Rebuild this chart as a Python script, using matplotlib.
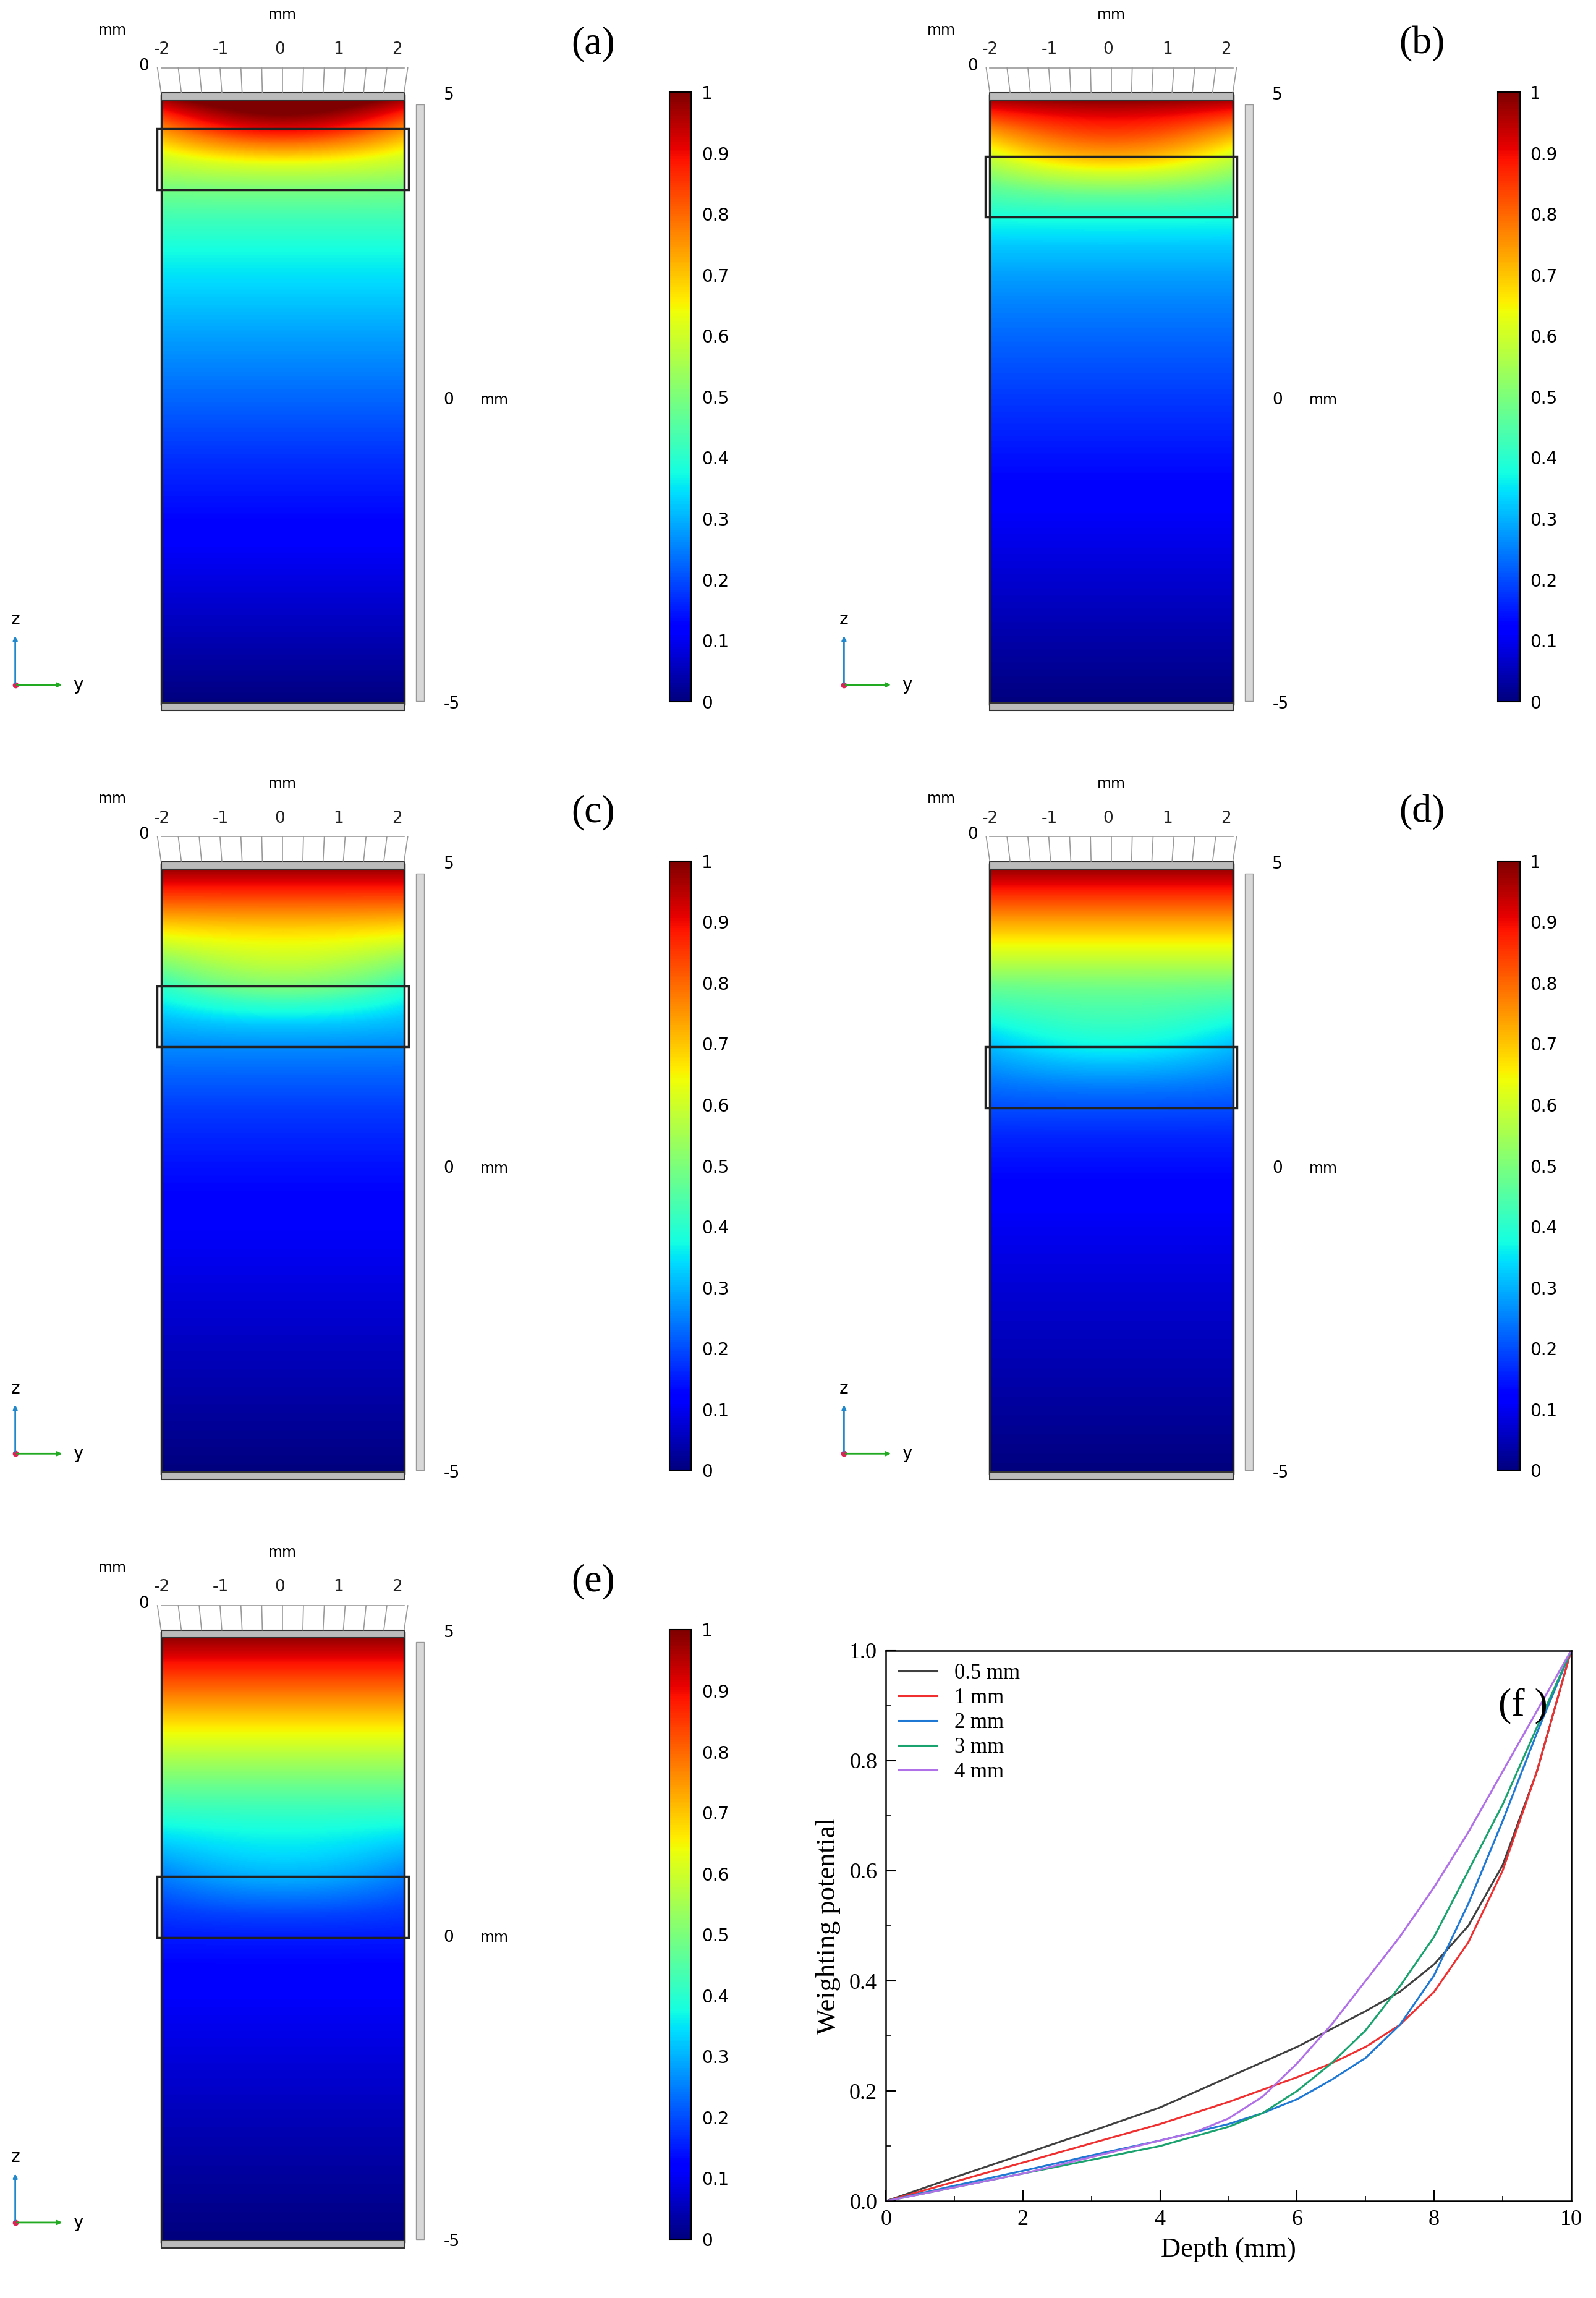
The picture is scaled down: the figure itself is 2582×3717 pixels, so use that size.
import numpy as np
import matplotlib
matplotlib.use("Agg")
import matplotlib.pyplot as plt
from matplotlib.patches import Rectangle

# ---- data ----
labels = ["0.5 mm", "1 mm", "2 mm", "3 mm", "4 mm"]
panel_tags = ["(a)", "(b)", "(c)", "(d)", "(e)"]
colors = ["#404040", "#f03030", "#1f78d4", "#1aa36f", "#b070e8"]
strip_top = [4.45, 4.0, 3.0, 2.0, 1.0]   # z of electrode strip top (mm)
depth_0p5 = [0, 1, 2, 3, 4, 5, 6, 7, 7.5, 8, 8.5, 9, 9.5, 10]
pot_0p5 = [0, 0.043, 0.085, 0.127, 0.17, 0.225, 0.28, 0.345, 0.38, 0.43, 0.5, 0.61, 0.78, 1.0]
depth_1 = [0, 1, 2, 3, 4, 5, 6, 6.5, 7, 7.5, 8, 8.5, 9, 9.5, 10]
pot_1 = [0, 0.035, 0.07, 0.105, 0.14, 0.18, 0.225, 0.25, 0.28, 0.32, 0.38, 0.47, 0.6, 0.78, 1.0]
depth_2 = [0, 1, 2, 3, 4, 5, 5.5, 6, 6.5, 7, 7.5, 8, 8.5, 9, 9.5, 10]
pot_2 = [0, 0.028, 0.055, 0.083, 0.11, 0.14, 0.16, 0.185, 0.22, 0.26, 0.32, 0.41, 0.54, 0.69, 0.85, 1.0]
depth_3 = [0, 1, 2, 3, 4, 5, 5.5, 6, 6.5, 7, 7.5, 8, 8.5, 9, 9.5, 10]
pot_3 = [0, 0.025, 0.05, 0.075, 0.1, 0.135, 0.16, 0.2, 0.25, 0.31, 0.39, 0.48, 0.6, 0.72, 0.86, 1.0]
depth_4 = [0, 1, 2, 3, 4, 4.5, 5, 5.5, 6, 6.5, 7, 7.5, 8, 8.5, 9, 9.5, 10]
pot_4 = [0, 0.025, 0.05, 0.08, 0.11, 0.125, 0.15, 0.19, 0.25, 0.32, 0.4, 0.48, 0.57, 0.67, 0.78, 0.89, 1.0]
curves = [(depth_0p5, pot_0p5), (depth_1, pot_1), (depth_2, pot_2),
          (depth_3, pot_3), (depth_4, pot_4)]
cb_ticks = [0, 0.1, 0.2, 0.3, 0.4, 0.5, 0.6, 0.7, 0.8, 0.9, 1.0]
cb_labels = ["0", "0.1", "0.2", "0.3", "0.4", "0.5", "0.6", "0.7", "0.8", "0.9", "1"]

W, H = 2582, 3717
fig = plt.figure(figsize=(W / 100, H / 100), dpi=100)

def fr(xd, yd_top, wd, hd):
    s = 2582 / 1090
    return [xd * s / W, 1 - (yd_top + hd) * s / H, wd * s / W, hd * s / H]

col_x = [110, 676]
row_y = [63, 588, 1113]
ys = np.linspace(-2, 2, 200)
zs = np.linspace(-5, 5, 600)
Y, Z = np.meshgrid(ys, zs)

for i in range(5):
    r, c = divmod(i, 2)
    ax = fig.add_axes(fr(col_x[c], row_y[r], 166, 420))
    d, p = curves[i]
    st = strip_top[i]
    bend = 0.35 * (1 - (Y / 2) ** 2) * np.exp(-((Z - st) / 0.7) ** 2)
    depth = np.clip(Z + 5 + bend, 0, 10)
    F = np.interp(depth, d, p)
    im = ax.imshow(F, extent=[-2, 2, -5, 5], origin="lower", cmap="jet",
                   vmin=0, vmax=1, aspect="auto", interpolation="bilinear")
    ax.set_xlim(-2, 2)
    ax.set_ylim(-5.05, 5.05)
    ax.axis("off")
    ax.add_patch(Rectangle((-2, -5), 4, 10, fill=False, lw=2.5, ec="#222222", clip_on=False))
    ax.add_patch(Rectangle((-2, -5.1), 4, 0.12, fc="#bbbbbb", ec="#333333", lw=1.5, clip_on=False))
    ax.add_patch(Rectangle((-2, 4.92), 4, 0.12, fc="#bbbbbb", ec="#333333", lw=1.5, clip_on=False))
    ax.add_patch(Rectangle((-2.07, st - 1), 4.14, 1, fill=False, lw=2.5, ec="#222222", clip_on=False))
    # top ruler
    for t in [-2, -1, 0, 1, 2]:
        ax.text(t * 0.97 - 0.05, 5.62, str(t), ha="center", va="bottom", fontsize=19, color="#222222", clip_on=False)
    for t in np.linspace(-2, 2, 13):
        ax.plot([t, t * 1.03], [5.05, 5.45], color="#999999", lw=1.2, clip_on=False)
    ax.plot([-2, 2], [5.45, 5.45], color="#999999", lw=1.2, clip_on=False)
    ax.text(0, 6.2, "mm", ha="center", va="bottom", fontsize=17, clip_on=False)
    ax.text(-2.8, 5.95, "mm", ha="center", va="bottom", fontsize=17, clip_on=False)
    ax.text(-2.28, 5.35, "0", ha="center", va="bottom", fontsize=19, clip_on=False)
    # right ruler
    ax.add_patch(Rectangle((2.2, -4.95), 0.13, 9.8, fc="#d8d8d8", ec="#999999", lw=1, clip_on=False))
    ax.text(2.65, 5.0, "5", ha="left", va="center", fontsize=19, clip_on=False)
    ax.text(2.65, 0.0, "0", ha="left", va="center", fontsize=19, clip_on=False)
    ax.text(3.25, 0.0, "mm", ha="left", va="center", fontsize=17, clip_on=False)
    ax.text(2.65, -5.0, "-5", ha="left", va="center", fontsize=19, clip_on=False)
    # axis triad
    ax.annotate("", xy=(-3.6, -4.68), xytext=(-4.4, -4.68),
                arrowprops=dict(arrowstyle="-|>", color="#22aa22", lw=2), annotation_clip=False)
    ax.annotate("", xy=(-4.4, -3.85), xytext=(-4.4, -4.68),
                arrowprops=dict(arrowstyle="-|>", color="#2288cc", lw=2), annotation_clip=False)
    ax.plot([-4.4], [-4.68], "o", color="#dd2255", ms=6, clip_on=False)
    ax.text(-3.45, -4.68, "y", ha="left", va="center", fontsize=20, clip_on=False)
    ax.text(-4.4, -3.75, "z", ha="center", va="bottom", fontsize=20, clip_on=False)
    # panel label
    fig.text((col_x[c] + 295) * 2582 / 1090 / W, 1 - (row_y[r] - 33) * 2582 / 1090 / H, panel_tags[i],
             fontsize=46, family="Liberation Serif", ha="center", va="center")
    # colorbar
    cax = fig.add_axes(fr(col_x[c] + 347, row_y[r], 15, 416))
    cb = fig.colorbar(im, cax=cax, ticks=cb_ticks)
    cb.ax.set_yticklabels(cb_labels)
    cb.ax.tick_params(labelsize=20, length=0, pad=12)
    cb.outline.set_linewidth(1.5)

# panel (f)
ax = fig.add_axes(fr(605, 1127, 468, 376))
for (d, p), lab, col in zip(curves, labels, colors):
    ax.plot(d, p, color=col, lw=2.2, label=lab)
ax.set_xlim(0, 10)
ax.set_ylim(0, 1.0)
ax.set_xticks([0, 2, 4, 6, 8, 10])
ax.set_yticks([0, 0.2, 0.4, 0.6, 0.8, 1.0])
ax.set_yticklabels(["0.0", "0.2", "0.4", "0.6", "0.8", "1.0"])
ax.set_xticks(np.arange(1, 10, 2), minor=True)
ax.set_yticks(np.arange(0.1, 1.0, 0.2), minor=True)
ax.tick_params(direction="in", which="major", length=12, width=1.5, labelsize=26, pad=10)
ax.tick_params(direction="in", which="minor", length=6, width=1.2)
for lab in ax.get_xticklabels() + ax.get_yticklabels():
    lab.set_family("Liberation Serif")
for s in ax.spines.values():
    s.set_linewidth(1.8)
ax.set_xlabel("Depth (mm)", fontsize=32, family="Liberation Serif", labelpad=8)
ax.set_ylabel("Weighting potential", fontsize=32, family="Liberation Serif", labelpad=10)
ax.legend(loc="upper left", frameon=False, prop={"family": "Liberation Serif", "size": 25},
          handlelength=1.8, labelspacing=0.2, borderaxespad=0.2)
ax.text(0.93, 0.9, "(f )", transform=ax.transAxes, fontsize=46, family="Liberation Serif",
        ha="center", va="center")

fig.savefig("out.png", dpi=100, facecolor="white")
